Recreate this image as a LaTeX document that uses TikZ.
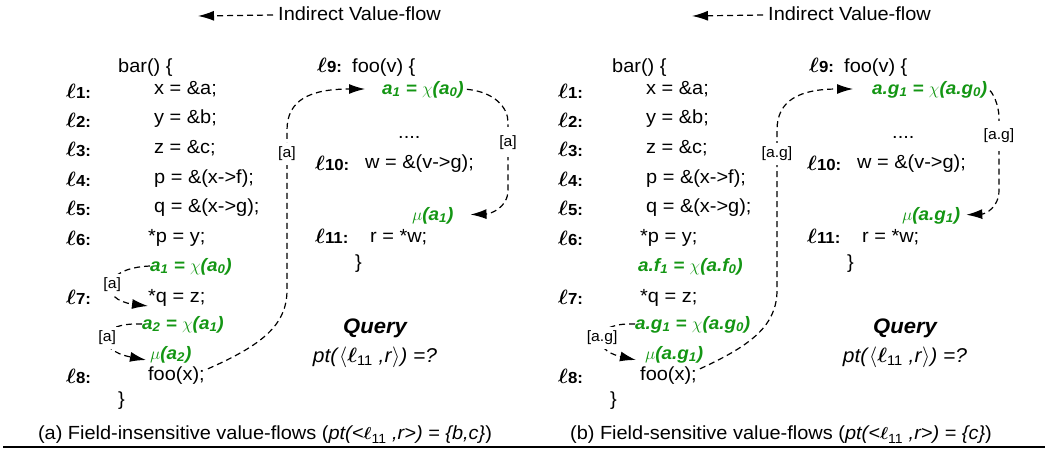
\documentclass[tikz,border=0pt]{standalone}
\usepackage{bm}
\usepackage[no-math]{fontspec}
\setmainfont[FakeStretch=1.05]{Liberation Sans}
\usetikzlibrary{arrows.meta}
\definecolor{vfgreen}{RGB}{20,150,20}
\newcommand\lbl[1]{{\fontsize{20}{22}\selectfont$\bm{\ell}$}{\fontsize{16}{18}\selectfont\bfseries #1:}}
\begin{document}
\begin{tikzpicture}[x=1pt,y=-1pt,
  code/.style={anchor=west,inner sep=0pt,text height=14pt,text depth=4pt,font=\fontsize{19}{22}\selectfont},
  lab/.style={anchor=west,inner sep=0pt,text height=14pt,text depth=4pt},
  gr/.style={anchor=west,inner sep=0pt,text height=14pt,text depth=4pt,text=vfgreen,font=\fontsize{18}{20}\selectfont\bfseries\itshape},
  flow/.style={dash pattern=on 6pt off 4pt, line width=1.2pt},
  tip/.style={-{Latex[length=16pt,width=10pt]}},
  tag/.style={fill=white,inner xsep=1.5pt,inner ysep=4pt,font=\fontsize{15}{18}\selectfont},
  qry/.style={font=\fontsize{21}{24}\selectfont\bfseries\itshape},
  ptx/.style={font=\fontsize{20}{24}\selectfont},
  captext/.style={font=\fontsize{19}{22}\selectfont},
]
\useasboundingbox (0,0) rectangle (1048,451);

% ---------------- legend ----------------
\node[code,anchor=west] (legA) at (278,15) {Indirect Value-flow};
\coordinate (legtipA) at (198,16);
\draw[flow,tip] ([xshift=-5pt]legA.west) -- (legtipA);
\node[code,anchor=west] (legB) at (768,15) {Indirect Value-flow};
\coordinate (legtipB) at (692,16);
\draw[flow,tip] ([xshift=-5pt]legB.west) -- (legtipB);

% ---------------- panel (a): bar ----------------
\node[code] (abar) at (118,67) {bar() \{};
\node[lab] (al1) at (66,93) {\lbl{1}};  \node[code] (ac1) at (154,89) {x = \&a;};
\node[lab] (al2) at (66,122) {\lbl{2}}; \node[code] (ac2) at (154,118) {y = \&b;};
\node[lab] (al3) at (66,151) {\lbl{3}}; \node[code] (ac3) at (154,148) {z = \&c;};
\node[lab] (al4) at (66,181) {\lbl{4}}; \node[code] (ac4) at (154,178) {p = \&(x->f);};
\node[lab] (al5) at (66,210) {\lbl{5}}; \node[code] (ac5) at (154,207) {q = \&(x->g);};
\node[lab] (al6) at (66,240) {\lbl{6}}; \node[code] (ac6) at (148,237) {*p = y;};
\node[gr] (aga1) at (150,266) {a\textsubscript{1} = $\chi$(a\textsubscript{0})};
\node[lab] (al7) at (66,299) {\lbl{7}}; \node[code] (ac7) at (148,297) {*q = z;};
\node[gr] (aga2) at (142,324) {a\textsubscript{2} = $\chi$(a\textsubscript{1})};
\node[gr] (amu) at (150,354) {$\mu$(a\textsubscript{2})};
\node[lab] (al8) at (66,378) {\lbl{8}}; \node[code] (ac8) at (148,375) {foo(x);};
\node[code] (aclose) at (118,400) {\}};

% ---------------- panel (a): foo ----------------
\node[lab] (al9) at (317,67) {\lbl{9}}; \node[code] (afoo) at (352,67) {foo(v) \{};
\node[gr] (afa1) at (382,89) {a\textsubscript{1} = $\chi$(a\textsubscript{0})};
\node[code] (adots) at (398,133) {....};
\node[lab] (al10) at (315,165) {\lbl{10}}; \node[code] (ac10) at (365,163) {w = \&(v->g);};
\node[gr] (afmu) at (412,215) {$\mu$(a\textsubscript{1})};
\node[lab] (al11) at (315,238) {\lbl{11}}; \node[code] (ac11) at (370,237) {r = *w;};
\node[code] (afclose) at (355,263) {\}};

\node[qry] (aq) at (375,328) {Query};
\node[ptx] (apt) at (375,357) {\textit{pt(}$\langle\bm{\ell}$\textsubscript{11} \textit{,r}$\rangle$\textit{) =?}};

% connectors (a)
\draw[flow,tip] (aga1.west) .. controls (100,268) and (100,300) .. ([yshift=-9pt]ac7.west) node[tag,pos=.5] {[a]};
\draw[flow,tip] (aga2.west) .. controls (95,322) and (95,350) .. ([xshift=-4pt,yshift=-6pt]amu.west) node[tag,pos=.5] {[a]};
\draw[flow,tip,shorten >=17pt] ([xshift=3pt,yshift=-3pt]ac8.north east) .. controls (262,345) and (287,325) .. (287,290)
   -- node[tag,pos=.85] {[a]} (287,130) .. controls (287,100) and (310,89) .. (afa1.west);
\draw[flow,tip,shorten <=3pt,shorten >=17pt] (afa1.east) .. controls (495,92) and (508,108) .. (508,122)
   -- node[tag,pos=.3,inner ysep=8pt] {[a]} (508,190) .. controls (508,208) and (490,214) .. (afmu.east);

% ---------------- panel (b): bar ----------------
\node[code] (bbar) at (612,67) {bar() \{};
\node[lab] (bl1) at (558,93) {\lbl{1}};  \node[code] (bc1) at (646,89) {x = \&a;};
\node[lab] (bl2) at (558,122) {\lbl{2}}; \node[code] (bc2) at (646,118) {y = \&b;};
\node[lab] (bl3) at (558,151) {\lbl{3}}; \node[code] (bc3) at (646,148) {z = \&c;};
\node[lab] (bl4) at (558,181) {\lbl{4}}; \node[code] (bc4) at (646,178) {p = \&(x->f);};
\node[lab] (bl5) at (558,210) {\lbl{5}}; \node[code] (bc5) at (646,207) {q = \&(x->g);};
\node[lab] (bl6) at (558,240) {\lbl{6}}; \node[code] (bc6) at (640,237) {*p = y;};
\node[gr] (bgf1) at (638,266) {a.f\textsubscript{1} = $\chi$(a.f\textsubscript{0})};
\node[lab] (bl7) at (558,299) {\lbl{7}}; \node[code] (bc7) at (640,297) {*q = z;};
\node[gr] (bgg1) at (635,324) {a.g\textsubscript{1} = $\chi$(a.g\textsubscript{0})};
\node[gr] (bmu) at (645,354) {$\mu$(a.g\textsubscript{1})};
\node[lab] (bl8) at (558,378) {\lbl{8}}; \node[code] (bc8) at (640,375) {foo(x);};
\node[code] (bclose) at (610,400) {\}};

% ---------------- panel (b): foo ----------------
\node[lab] (bl9) at (809,67) {\lbl{9}}; \node[code] (bfoo) at (844,67) {foo(v) \{};
\node[gr] (bfg1) at (872,89) {a.g\textsubscript{1} = $\chi$(a.g\textsubscript{0})};
\node[code] (bdots) at (892,133) {....};
\node[lab] (bl10) at (807,165) {\lbl{10}}; \node[code] (bc10) at (857,163) {w = \&(v->g);};
\node[gr] (bfmu) at (902,215) {$\mu$(a.g\textsubscript{1})};
\node[lab] (bl11) at (807,238) {\lbl{11}}; \node[code] (bc11) at (862,237) {r = *w;};
\node[code] (bfclose) at (847,263) {\}};

\node[qry] (bq) at (905,328) {Query};
\node[ptx] (bpt) at (905,357) {\textit{pt(}$\langle\bm{\ell}$\textsubscript{11} \textit{,r}$\rangle$\textit{) =?}};

% connectors (b)
\draw[flow,tip] (bgg1.west) .. controls (591,322) and (591,350) .. ([xshift=-9pt,yshift=-6pt]bmu.west) node[tag,pos=.5] {[a.g]};
\draw[flow,tip,shorten >=19pt] ([xshift=3pt,yshift=-3pt]bc8.north east) .. controls (752,345) and (777,325) .. (777,290)
   -- node[tag,pos=.85] {[a.g]} (777,130) .. controls (777,100) and (800,89) .. (bfg1.west);
\draw[flow,tip,shorten <=3pt,shorten >=6pt] (bfg1.east) .. controls (992,92) and (999,104) .. (999,118)
   -- node[tag,pos=.25,inner ysep=8pt] {[a.g]} (999,190) .. controls (999,208) and (985,214) .. (bfmu.east);

% ---------------- captions ----------------
\node[captext] (capA) at (265,435) {(a) Field-insensitive value-flows (\textit{pt(<}$\bm{\ell}$\textsubscript{11} \textit{,r>) = \{b,c\}})};
\node[captext] (capB) at (781,435) {(b) Field-sensitive value-flows (\textit{pt(<}$\bm{\ell}$\textsubscript{11} \textit{,r>) = \{c\}})};
\coordinate (ruleL) at (3,447);
\coordinate (ruleR) at (1045,447);
\draw[line width=1.5pt] (ruleL) -- (ruleR);
\end{tikzpicture}
\end{document}
